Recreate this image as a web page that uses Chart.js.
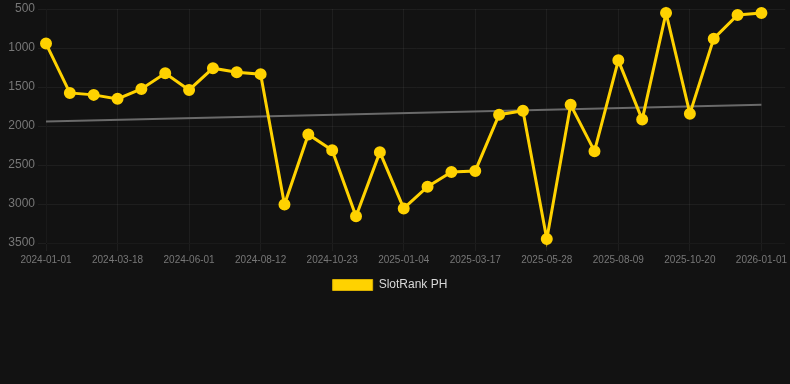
<!DOCTYPE html>
<html lang="en">
<head>
  <meta charset="UTF-8" />
  <title>SlotRank PH</title>
  <script src="https://cdn.jsdelivr.net/npm/chart.js"></script>
  <style>
    body {
      margin: 0;
      background: #121212;
      font-family: Arial, "Liberation Sans", sans-serif;
    }
    .wrap {
      width: 790px;
      height: 301px;
    }
  </style>
</head>
<body>

<div class="wrap">
  <canvas id="rankChart"></canvas>
</div>

<script>
  const dates = [
    '2024-01-01', '2024-01-26', '2024-02-21', '2024-03-18', '2024-04-12', '2024-05-07',
    '2024-06-01', '2024-06-25', '2024-07-19', '2024-08-12', '2024-09-05', '2024-09-29',
    '2024-10-23', '2024-11-16', '2024-12-11', '2025-01-04', '2025-01-28', '2025-02-21',
    '2025-03-17', '2025-04-10', '2025-05-04', '2025-05-28', '2025-06-21', '2025-07-16',
    '2025-08-09', '2025-09-02', '2025-09-26', '2025-10-20', '2025-11-13', '2025-12-08',
    '2026-01-01'
  ];

  const rankPH = [
    943, 1576, 1601, 1652, 1525, 1323, 1538, 1259, 1310, 1335,
    3006, 2108, 2310, 3158, 2335, 3057, 2779, 2589, 2576, 1855,
    1804, 3450, 1728, 2323, 1158, 1918, 551, 1842, 880, 576,
    551
  ];

  // trend line end points
  const trendStart = 1943;
  const trendEnd = 1728;

  const yTicks = [500, 1000, 1500, 2000, 2500, 3000, 3500];

  const gold = '#FFD200';
  const gridColor = 'rgba(255,255,255,0.05)';
  const fontFamily = 'Arial, "Liberation Sans", sans-serif';

  const last = dates.length - 1;

  // legend sits a little left of centre in the original
  const legendShift = {
    id: 'legendShift',
    afterLayout: chart => { chart.legend.left -= 10; }
  };

  new Chart(document.getElementById('rankChart'), {
    type: 'line',
    data: {
      datasets: [
        {
          label: 'SlotRank PH',
          data: rankPH.map((v, i) => ({ x: i, y: v })),
          borderColor: gold,
          backgroundColor: gold,
          borderWidth: 3,
          pointRadius: 4.5,
          pointHoverRadius: 5,
          pointBackgroundColor: gold,
          pointBorderColor: gold,
          tension: 0,
          fill: false,
          clip: false
        },
        {
          label: 'trend',
          data: [{ x: 0, y: trendStart }, { x: last, y: trendEnd }],
          borderColor: '#6a6a6a',
          borderWidth: 2,
          pointRadius: 0,
          fill: false
        }
      ]
    },
    plugins: [legendShift],
    options: {
      responsive: true,
      maintainAspectRatio: false,
      animation: false,
      layout: { autoPadding: false, padding: { top: -2 } },
      plugins: {
        legend: {
          position: 'bottom',
          labels: {
            color: '#d8d8d8',
            boxWidth: 40,
            boxHeight: 11,
            font: { size: 12, family: fontFamily },
            filter: item => item.text !== 'trend',
            generateLabels: chart => Chart.defaults.plugins.legend.labels.generateLabels(chart)
              .map(l => Object.assign(l, { lineWidth: 1, strokeStyle: '#d9b000' }))
          }
        },
        tooltip: { enabled: false }
      },
      scales: {
        x: {
          type: 'linear',
          min: 0,
          max: last + 1,
          grid: { color: gridColor, tickColor: gridColor },
          afterBuildTicks: axis => {
            axis.ticks = dates.map((d, i) => i).filter(i => i % 3 === 0).map(i => ({ value: i }));
          },
          ticks: {
            color: '#777',
            maxRotation: 0,
            autoSkip: false,
            callback: v => dates[v],
            font: { size: 10, family: fontFamily }
          }
        },
        y: {
          reverse: true,
          min: yTicks[0],
          max: yTicks[yTicks.length - 1],
          grid: { color: gridColor, tickColor: gridColor },
          afterBuildTicks: axis => { axis.ticks = yTicks.map(v => ({ value: v })); },
          afterFit: axis => { axis.width = 46; },
          ticks: {
            color: '#777',
            callback: v => String(v),
            font: { size: 12, family: fontFamily, lineHeight: 1 }
          }
        }
      }
    }
  });
</script>

</body>
</html>
